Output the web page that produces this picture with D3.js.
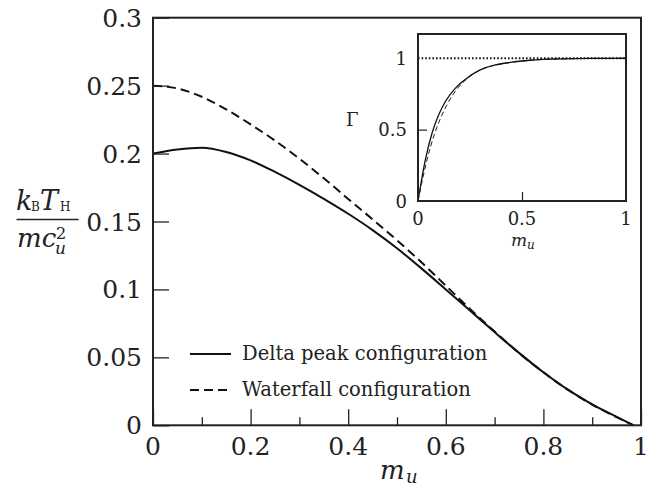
<!DOCTYPE html>
<html>
<head>
<meta charset="utf-8">
<script src="https://cdn.jsdelivr.net/npm/d3@7"></script>
<style>
  body { margin: 0; background: #fff; }
  svg { display: block; }
</style>
</head>
<body>
<div id="chart"></div>
<script>
// main panel: k_B T_H / m c_u^2 against m_u
var mu = [0, 0.05, 0.1, 0.15, 0.2, 0.25, 0.3, 0.35, 0.4, 0.45, 0.5, 0.55, 0.6, 0.65, 0.7, 0.75, 0.8, 0.85, 0.9, 0.95, 0.985];
var deltaPeak = [0.200, 0.2030, 0.2043, 0.2012, 0.1950, 0.1865, 0.1770, 0.1667, 0.1557, 0.1437, 0.1303, 0.1155, 0.1000, 0.0843, 0.0686, 0.0533, 0.0390, 0.0262, 0.0154, 0.0062, 0];
var waterfall = [0.250, 0.2479, 0.2418, 0.2325, 0.2215, 0.2095, 0.1962, 0.1818, 0.1666, 0.1516, 0.1362, 0.1200, 0.1028, 0.0855, 0.0690, 0.0532, 0.0390, 0.0262, 0.0153, 0.0060, 0];

// inset: Gamma against m_u
var gammaDeltaMu = [0, 0.035, 0.067, 0.099, 0.131, 0.179, 0.227, 0.292, 0.372, 0.444, 0.54, 0.7, 0.85, 1];
var gammaDelta = [0, 0.286, 0.473, 0.602, 0.695, 0.789, 0.852, 0.913, 0.953, 0.971, 0.986, 0.996, 0.999, 1];
var gammaWaterMu = [0, 0.043, 0.080, 0.115, 0.147, 0.190, 0.232, 0.292, 0.372, 0.444, 0.54, 0.7, 0.85, 1];
var gammaWater = [0, 0.286, 0.473, 0.602, 0.695, 0.789, 0.852, 0.913, 0.953, 0.971, 0.986, 0.996, 0.999, 1];

var xTicks = [0, 0.2, 0.4, 0.6, 0.8, 1];
var xMinor = [0.1, 0.3, 0.5, 0.7, 0.9];
var yTicks = [0, 0.05, 0.1, 0.15, 0.2, 0.25, 0.3];
var insetTicks = [0, 0.5, 1];

var legendNames = ["Delta peak configuration", "Waterfall configuration"];

var width = 660, height = 488;
var serif = "DejaVu Serif";

var svg = d3.select("#chart").append("svg")
    .attr("width", width)
    .attr("height", height)
    .style("font-family", serif);

var x = d3.scaleLinear().domain([0, 1]).range([153, 641]);
var y = d3.scaleLinear().domain([0, 0.3]).range([425.3, 17.7]);

function fmt(d) { return d === 0 ? "0" : d === 1 ? "1" : String(d); }

function label(px, py, size, txt, italic) {
    return svg.append("text")
        .attr("x", px).attr("y", py)
        .style("font-family", serif)
        .style("font-size", size + "px")
        .style("font-style", italic ? "italic" : "normal")
        .attr("fill", "#222")
        .text(txt);
}

// curves
var line = d3.line()
    .x(function (d) { return x(d[0]); })
    .y(function (d) { return y(d[1]); })
    .curve(d3.curveMonotoneX);

svg.append("path")
    .attr("d", line(d3.zip(mu, waterfall)))
    .attr("fill", "none").attr("stroke", "#111")
    .attr("stroke-width", 2).attr("stroke-dasharray", "9,5");

svg.append("path")
    .attr("d", line(d3.zip(mu, deltaPeak)))
    .attr("fill", "none").attr("stroke", "#111")
    .attr("stroke-width", 2);

// axes (ticks point inward)
var xAxis = svg.append("g").attr("transform", "translate(0," + y(0) + ")")
    .call(d3.axisBottom(x).tickValues(xTicks).tickSize(-16).tickFormat(""));
xAxis.append("g").call(d3.axisBottom(x).tickValues(xMinor).tickSize(-8).tickFormat(""));

svg.append("g").attr("transform", "translate(" + x(0) + ",0)")
    .call(d3.axisLeft(y).tickValues(yTicks).tickSize(-16).tickFormat(""));

svg.selectAll(".domain").remove();
svg.selectAll(".tick line").attr("stroke", "#222").attr("stroke-width", 1.3);

svg.append("rect")
    .attr("x", x(0)).attr("y", y(0.3))
    .attr("width", x(1) - x(0)).attr("height", y(0) - y(0.3))
    .attr("fill", "none").attr("stroke", "#222").attr("stroke-width", 2);

svg.selectAll(".xlab").data(xTicks).enter().append("text")
    .attr("x", function (d) { return x(d); })
    .attr("y", 455)
    .attr("text-anchor", "middle")
    .attr("fill", "#222")
    .style("font-family", serif)
    .style("font-size", "25px")
    .text(fmt);

svg.selectAll(".ylab").data(yTicks).enter().append("text")
    .attr("x", 142)
    .attr("y", function (d) { return y(d) + 9; })
    .attr("text-anchor", "end")
    .attr("fill", "#222")
    .style("font-family", serif)
    .style("font-size", "25px")
    .text(fmt);

// x label m_u
label(380, 479, 26, "m", true);
label(406, 483, 18, "u", true);

// y label fraction
label(16, 210, 27, "k", true);
label(31, 211, 12, "B", false);
label(40, 210, 27, "T", true);
label(60, 211, 12, "H", false);
svg.append("line").attr("x1", 16.5).attr("x2", 78.5).attr("y1", 219.5).attr("y2", 219.5)
    .attr("stroke", "#222").attr("stroke-width", 1.6);
label(17, 246.5, 26, "mc", true);
label(55, 254, 17, "u", true);
label(56, 239, 16, "2", false);

// legend
var legend = svg.selectAll(".legend").data(legendNames).enter().append("g")
    .attr("transform", function (d, i) { return "translate(190," + (354 + i * 36) + ")"; });

legend.append("line")
    .attr("x1", 0).attr("x2", 41).attr("y1", 0).attr("y2", 0)
    .attr("stroke", "#111").attr("stroke-width", 2)
    .attr("stroke-dasharray", function (d, i) { return i === 1 ? "9,5" : null; });

legend.append("text")
    .attr("x", 52).attr("y", 6)
    .attr("fill", "#222")
    .style("font-family", serif)
    .style("font-size", "19.5px")
    .text(function (d) { return d; });

// inset
var ix = d3.scaleLinear().domain([0, 1]).range([418, 626]);
var iy = d3.scaleLinear().domain([0, 1.17]).range([201, 34]);

var inset = svg.append("g");

inset.append("rect")
    .attr("x", ix(0)).attr("y", iy(1.17))
    .attr("width", ix(1) - ix(0)).attr("height", iy(0) - iy(1.17))
    .attr("fill", "#fff");

var iline = d3.line()
    .x(function (d) { return ix(d[0]); })
    .y(function (d) { return iy(d[1]); })
    .curve(d3.curveMonotoneX);

inset.append("path")
    .attr("d", iline([[0, 1], [1, 1]]))
    .attr("fill", "none").attr("stroke", "#111")
    .attr("stroke-width", 2).attr("stroke-dasharray", "1.6,2");

inset.append("path")
    .attr("d", iline(d3.zip(gammaWaterMu, gammaWater)))
    .attr("fill", "none").attr("stroke", "#222")
    .attr("stroke-width", 1).attr("stroke-dasharray", "5,3");

inset.append("path")
    .attr("d", iline(d3.zip(gammaDeltaMu, gammaDelta)))
    .attr("fill", "none").attr("stroke", "#111")
    .attr("stroke-width", 1.3);

inset.append("g").attr("transform", "translate(0," + iy(0) + ")")
    .call(d3.axisBottom(ix).tickValues([0.5]).tickSize(-9).tickFormat(""));
inset.append("g").attr("transform", "translate(" + ix(0) + ",0)")
    .call(d3.axisLeft(iy).tickValues([0.5]).tickSize(-9).tickFormat(""));
inset.selectAll(".domain").remove();
inset.selectAll(".tick line").attr("stroke", "#222").attr("stroke-width", 1.2);

inset.append("rect")
    .attr("x", ix(0)).attr("y", iy(1.17))
    .attr("width", ix(1) - ix(0)).attr("height", iy(0) - iy(1.17))
    .attr("fill", "none").attr("stroke", "#222").attr("stroke-width", 2);

inset.selectAll(".ixlab").data(insetTicks).enter().append("text")
    .attr("x", function (d) { return ix(d); })
    .attr("y", 225)
    .attr("text-anchor", "middle")
    .attr("fill", "#222")
    .style("font-family", serif)
    .style("font-size", "18px")
    .text(fmt);

inset.selectAll(".iylab").data(insetTicks).enter().append("text")
    .attr("x", 407)
    .attr("y", function (d) { return iy(d) + 6.5; })
    .attr("text-anchor", "end")
    .attr("fill", "#222")
    .style("font-family", serif)
    .style("font-size", "18px")
    .text(fmt);

label(511, 246, 17, "m", true);
label(527, 249, 12, "u", true);
label(346, 126, 18, "Γ", false);
</script>
</body>
</html>
